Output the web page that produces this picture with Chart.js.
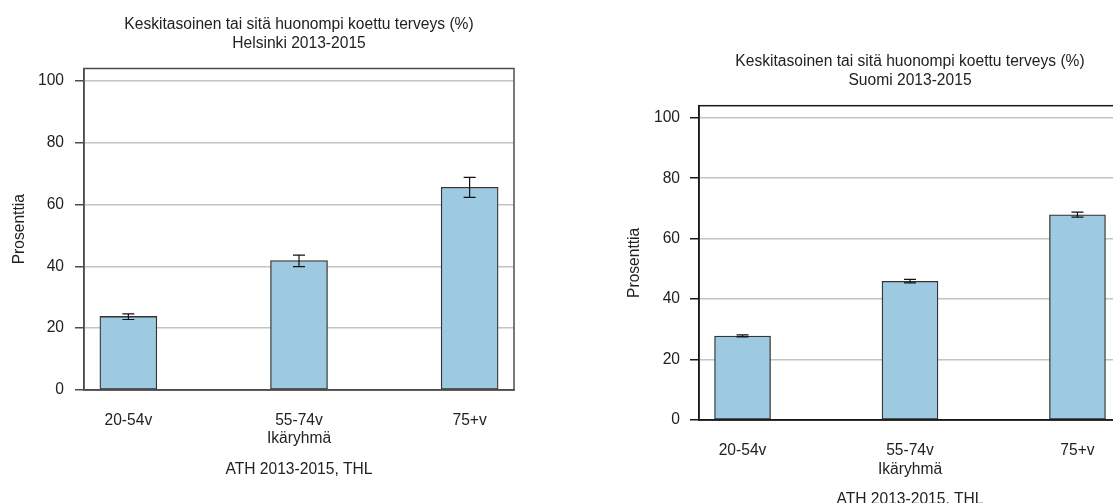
<!DOCTYPE html>
<html>
<head>
<meta charset="utf-8">
<script src="https://cdn.jsdelivr.net/npm/chart.js@4/dist/chart.umd.min.js"></script>
<style>
  html, body { margin: 0; padding: 0; background: #fff; overflow: hidden; width: 1113px; height: 503px; }
  .panel { position: absolute; top: 0; }
  #left { left: 0; width: 560px; height: 503px; }
  #right { left: 600px; width: 560px; height: 512px; }
</style>
</head>
<body>
<div class="panel" id="left"><canvas id="c1"></canvas></div>
<div class="panel" id="right"><canvas id="c2"></canvas></div>
<script>
// Age groups and shares (%) with 95% confidence limits
const categories = ['20-54v', '55-74v', '75+v'];
const helsinkiValues = [23.8, 41.9, 65.6];
const helsinkiLower = [22.8, 39.9, 62.3];
const helsinkiUpper = [24.6, 43.6, 68.8];
const suomiValues = [27.8, 45.9, 67.9];
const suomiLower = [27.5, 45.4, 67.1];
const suomiUpper = [28.2, 46.5, 68.8];
const yTicks = [0, 20, 40, 60, 80, 100];

const mainTitle = 'Keskitasoinen tai sitä huonompi koettu terveys (%)';
const xTitle = 'Ikäryhmä';
const yTitle = 'Prosenttia';
const source = 'ATH 2013-2015, THL';

const FONT = '"Liberation Sans", Arial, sans-serif';
const FS = 15.6;
const TEXT = '#222';

// Error bars drawn on top of the bars from the lower/upper arrays
const errorBars = {
  id: 'errorBars',
  afterDatasetsDraw(chart, args, opts) {
    const { ctx, scales: { x, y } } = chart;
    ctx.save();
    ctx.strokeStyle = '#111';
    ctx.lineWidth = 1.2;
    opts.lower.forEach((lo, i) => {
      const px = x.getPixelForValue(i);
      const y1 = y.getPixelForValue(lo);
      const y2 = y.getPixelForValue(opts.upper[i]);
      const h = 6;
      ctx.beginPath();
      ctx.moveTo(px, y1); ctx.lineTo(px, y2);
      ctx.moveTo(px - h, y1); ctx.lineTo(px + h, y1);
      ctx.moveTo(px - h, y2); ctx.lineTo(px + h, y2);
      ctx.stroke();
    });
    ctx.restore();
  }
};

// Closed frame round the plotting area
const frame = {
  id: 'frame',
  afterDatasetsDraw(chart, args, opts) {
    const { ctx, chartArea: a } = chart;
    ctx.save();
    ctx.strokeStyle = opts.color;
    ctx.lineWidth = opts.width;
    ctx.strokeRect(a.left, a.top, a.right - a.left, a.bottom - a.top);
    ctx.restore();
  }
};

function makeChart(canvasId, cfg) {
  const data = categories.map((c, i) => ({ x: i, y: cfg.values[i] }));
  return new Chart(document.getElementById(canvasId), {
    type: 'bar',
    data: {
      datasets: [{
        data,
        backgroundColor: '#9ecae1',
        borderColor: '#333',
        borderWidth: 1.3,
        borderSkipped: false,
        barThickness: cfg.barThickness
      }]
    },
    plugins: [errorBars, frame],
    options: {
      responsive: true,
      maintainAspectRatio: false,
      animation: false,
      events: [],
      layout: { padding: { left: 0, right: cfg.padRight, top: 0, bottom: 0 } },
      plugins: {
        legend: { display: false },
        tooltip: { enabled: false },
        title: {
          display: true,
          fullSize: false,
          text: [mainTitle, cfg.subtitle],
          color: TEXT,
          font: { family: FONT, size: FS, weight: 'normal', lineHeight: 19 / FS },
          padding: { top: cfg.titleTop, bottom: cfg.titleBottom }
        },
        subtitle: {
          display: true,
          fullSize: false,
          position: 'bottom',
          text: source,
          color: TEXT,
          font: { family: FONT, size: FS, lineHeight: 18 / FS },
          padding: { top: 0, bottom: cfg.sourceBottom }
        },
        errorBars: { lower: cfg.lower, upper: cfg.upper },
        frame: { color: cfg.frameColor, width: 1.5 }
      },
      scales: {
        x: {
          type: 'linear',
          offset: false,
          min: -0.26,
          max: 2.26,
          afterBuildTicks: (s) => { s.ticks = categories.map((c, i) => ({ value: i })); },
          afterFit: (s) => { s.height = cfg.xHeight; },
          ticks: {
            autoSkip: false,
            maxRotation: 0,
            padding: cfg.xTickPad,
            color: TEXT,
            font: { family: FONT, size: FS },
            callback: (v) => categories[v]
          },
          grid: { display: false, offset: false },
          border: { display: true, color: cfg.frameColor, width: 1.5 },
          title: {
            display: true,
            text: xTitle,
            color: TEXT,
            font: { family: FONT, size: FS, lineHeight: 18 / FS },
            padding: { top: 0, bottom: cfg.xTitleBottom }
          }
        },
        y: {
          min: 0,
          max: 104,
          afterBuildTicks: (s) => { s.ticks = yTicks.map(v => ({ value: v })); },
          afterFit: (s) => { s.width = cfg.yWidth; },
          ticks: {
            padding: cfg.yTickPad,
            color: TEXT,
            font: { family: FONT, size: FS }
          },
          grid: {
            color: '#c4c4c4',
            lineWidth: 1.5,
            drawTicks: true,
            tickLength: 9,
            tickColor: cfg.frameColor,
            tickWidth: 1.5
          },
          border: { display: true, color: cfg.frameColor, width: 1.5 },
          title: {
            display: true,
            text: yTitle,
            color: TEXT,
            font: { family: FONT, size: FS, lineHeight: 18 / FS },
            padding: { top: cfg.yTitleTop, bottom: 0 }
          }
        }
      }
    }
  });
}

makeChart('c1', {
  subtitle: 'Helsinki 2013-2015',
  values: helsinkiValues, lower: helsinkiLower, upper: helsinkiUpper,
  barThickness: 57, padRight: 46,
  titleTop: 15.5, titleBottom: 15,
  sourceBottom: 24, xHeight: 71, xTitleBottom: 13, xTickPad: 13.5,
  yWidth: 84, yTickPad: 11, yTitleTop: 11,
  frameColor: '#4d4d4d'
});

makeChart('c2', {
  subtitle: 'Suomi 2013-2015',
  values: suomiValues, lower: suomiLower, upper: suomiUpper,
  barThickness: 56, padRight: 39,
  titleTop: 52.5, titleBottom: 15.2,
  sourceBottom: 3.5, xHeight: 70.5, xTitleBottom: 11.5, xTickPad: 13.5,
  yWidth: 99, yTickPad: 10, yTitleTop: 26,
  frameColor: '#1a1a1a'
});
</script>
</body>
</html>
